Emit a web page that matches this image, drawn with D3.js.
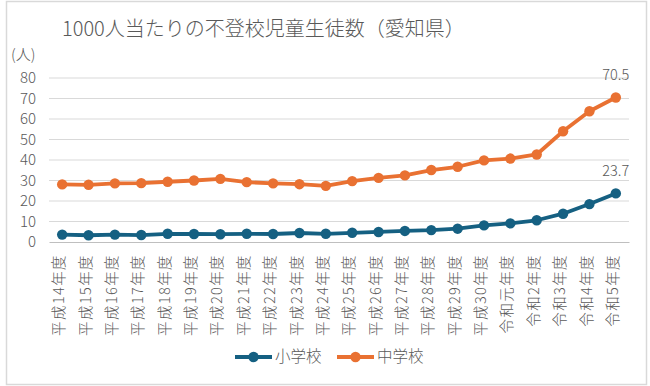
<!DOCTYPE html>
<html>
<head>
<meta charset="utf-8">
<script src="https://cdn.jsdelivr.net/npm/d3@7"></script>
<style>
  body { margin: 0; background: #fff; }
  text { font-family: "Noto Sans CJK JP", "Noto Sans", sans-serif; fill: #595959; font-weight: 300; }
</style>
</head>
<body>
<div id="chart"></div>
<script>
// data
var years = ["平成14年度", "平成15年度", "平成16年度", "平成17年度", "平成18年度", "平成19年度",
  "平成20年度", "平成21年度", "平成22年度", "平成23年度", "平成24年度", "平成25年度",
  "平成26年度", "平成27年度", "平成28年度", "平成29年度", "平成30年度", "令和元年度",
  "令和2年度", "令和3年度", "令和4年度", "令和5年度"];
var elementary = [3.6, 3.3, 3.6, 3.4, 4.0, 3.9, 3.8, 4.0, 3.9, 4.4, 4.0, 4.5,
  4.9, 5.4, 5.8, 6.5, 8.1, 9.1, 10.6, 13.8, 18.5, 23.7];
var juniorHigh = [28.1, 27.9, 28.6, 28.7, 29.4, 30.0, 30.8, 29.2, 28.6, 28.2, 27.4, 29.7,
  31.3, 32.5, 35.1, 36.7, 39.8, 40.7, 42.7, 54.0, 63.8, 70.5];
var yTicks = [0, 10, 20, 30, 40, 50, 60, 70, 80];

var series = [
  { name: "小学校", values: elementary, color: "#156082" },
  { name: "中学校", values: juniorHigh, color: "#e97132" }
];

var W = 650, H = 386;
var margin = { top: 78, right: 21, bottom: 144, left: 49 };
var width = W - margin.left - margin.right;
var height = H - margin.top - margin.bottom;

var svg = d3.select("#chart").append("svg")
  .attr("width", W)
  .attr("height", H);

// outer frame
svg.append("rect")
  .attr("x", 6.5).attr("y", 1.5)
  .attr("width", 640).attr("height", 383)
  .attr("fill", "#fff")
  .attr("stroke", "#d9d9d9")
  .attr("stroke-width", 1.5);

// title
svg.append("text")
  .attr("x", 62)
  .attr("y", 36)
  .attr("font-size", "20px")
  .text("1000人当たりの不登校児童生徒数（愛知県）");

var g = svg.append("g")
  .attr("transform", "translate(" + margin.left + "," + margin.top + ")");

var x = d3.scaleBand().domain(years).range([0, width]);
var y = d3.scaleLinear().domain([0, 80]).range([height, 0]);

// gridlines
g.append("g")
  .selectAll("line")
  .data(yTicks.filter(function(d) { return d > 0; }))
  .enter().append("line")
  .attr("x1", 0).attr("x2", width)
  .attr("y1", function(d) { return y(d); })
  .attr("y2", function(d) { return y(d); })
  .attr("stroke", "#d9d9d9")
  .attr("stroke-width", 1.2);

// y axis labels
var axisY = d3.axisLeft(y).tickValues(yTicks).tickSize(0).tickPadding(13);
var groupY = g.append("g").call(axisY);
groupY.select(".domain").remove();
groupY.selectAll("text")
  .attr("font-size", "15px")
  .attr("font-family", "\"Noto Sans CJK JP\", sans-serif")
  .attr("fill", "#595959");

svg.append("text")
  .attr("x", 11)
  .attr("y", 60)
  .attr("font-size", "15px")
  .text("(人)");

// x axis
var axisX = d3.axisBottom(x).tickSize(0).tickPadding(0);
var groupX = g.append("g")
  .attr("transform", "translate(0," + height + ")")
  .call(axisX);
groupX.select(".domain")
  .attr("stroke", "#bfbfbf")
  .attr("stroke-width", 1.2);
groupX.selectAll("text")
  .attr("font-size", "14.5px")
  .attr("font-family", "\"Noto Sans CJK JP\", sans-serif")
  .attr("fill", "#595959")
  .attr("letter-spacing", "1.4px")
  .attr("text-anchor", "end")
  .attr("transform", "translate(-3,12) rotate(-90)")
  .attr("x", 0)
  .attr("y", 0)
  .attr("dy", "0.35em");

// lines
var line = d3.line()
  .x(function(d, i) { return x(years[i]) + x.bandwidth() / 2; })
  .y(function(d) { return y(d); });

series.forEach(function(s) {
  g.append("path")
    .datum(s.values)
    .attr("fill", "none")
    .attr("stroke", s.color)
    .attr("stroke-width", 3.8)
    .attr("stroke-linejoin", "round")
    .attr("d", line);

  g.append("g")
    .selectAll("circle")
    .data(s.values)
    .enter().append("circle")
    .attr("cx", function(d, i) { return x(years[i]) + x.bandwidth() / 2; })
    .attr("cy", function(d) { return y(d); })
    .attr("r", 5.2)
    .attr("fill", s.color);

  // label on the last point
  var last = s.values.length - 1;
  g.append("text")
    .attr("x", x(years[last]) + x.bandwidth() / 2)
    .attr("y", y(s.values[last]) - 17)
    .attr("text-anchor", "middle")
    .attr("font-size", "14.5px")
    .text(s.values[last].toFixed(1));
});

// legend
var legend = svg.append("g")
  .attr("transform", "translate(235,357)");

var item = legend.selectAll("g")
  .data(series)
  .enter().append("g")
  .attr("transform", function(d, i) { return "translate(" + (i * 102) + ",0)"; });

item.append("line")
  .attr("x1", 0).attr("x2", 37)
  .attr("stroke", function(d) { return d.color; })
  .attr("stroke-width", 3.8);

item.append("circle")
  .attr("cx", 18.5)
  .attr("r", 5.2)
  .attr("fill", function(d) { return d.color; });

item.append("text")
  .attr("x", 40)
  .attr("dy", "0.35em")
  .attr("font-size", "15.5px")
  .text(function(d) { return d.name; });
</script>
</body>
</html>
